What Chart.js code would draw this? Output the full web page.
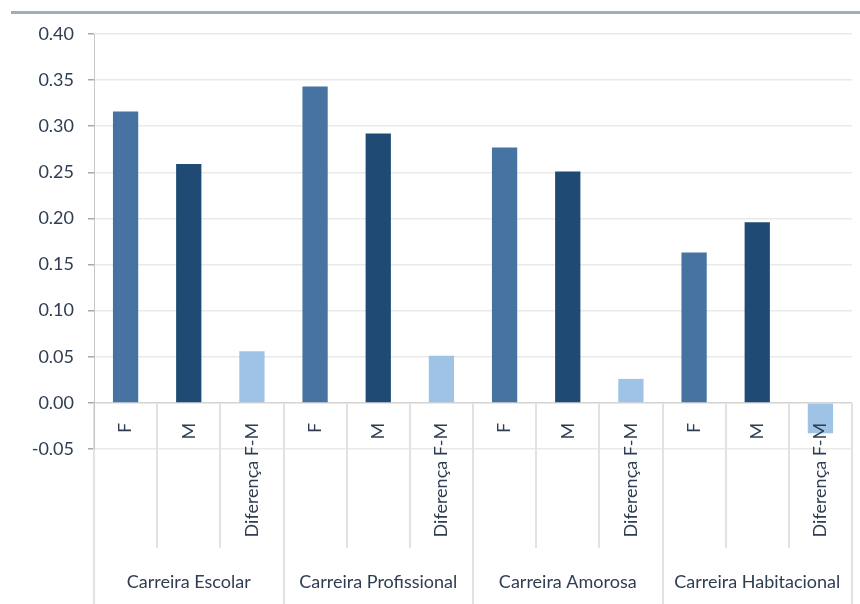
<!DOCTYPE html>
<html>
<head>
<meta charset="utf-8">
<script src="https://cdn.jsdelivr.net/npm/chart.js@4.4.1/dist/chart.umd.min.js"></script>
<style>
  body { margin: 0; background: #fff; }
  #wrap { position: relative; width: 860px; height: 604px; }
  #topline { position: absolute; left: 11px; right: 0; top: 11px; height: 3px; background: #a4adb7; }
</style>
</head>
<body>
<div id="wrap">
  <div id="topline"></div>
  <canvas id="chart"></canvas>
</div>
<script>
// sub-categories (one bar each) and the four groups
const subLabels = ['F', 'M', 'Diferença F-M', 'F', 'M', 'Diferença F-M',
                   'F', 'M', 'Diferença F-M', 'F', 'M', 'Diferença F-M'];
const groupLabels = ['Carreira Escolar', 'Carreira Profissional', 'Carreira Amorosa', 'Carreira Habitacional'];

// values
const values = [0.316, 0.259, 0.056,
                0.343, 0.292, 0.051,
                0.277, 0.251, 0.026,
                0.163, 0.196, -0.033];

const yMin = -0.05;
const yMax = 0.40;
const yStep = 0.05;

const colF = '#4673a1';
const colM = '#1f4a73';
const colD = '#9fc3e7';
const barColors = subLabels.map(l => l === 'F' ? colF : (l === 'M' ? colM : colD));

const textColor = '#2e3d52';
const fontFam = 'Lato, "Open Sans", sans-serif';

const ctx = document.getElementById('chart');

new Chart(ctx, {
    type: 'bar',
    data: {
        labels: subLabels,
        datasets: [{
            data: values,
            backgroundColor: barColors,
            categoryPercentage: 1,
            barPercentage: 0.4,
            xAxisID: 'x',
            yAxisID: 'y'
        }]
    },
    options: {
        responsive: true,
        maintainAspectRatio: false,
        animation: false,
        layout: { padding: { left: 0, right: 8, top: 34, bottom: 0 } },
        plugins: { legend: { display: false }, tooltip: { enabled: false } },
        scales: {
            y: {
                min: yMin,
                max: yMax,
                afterFit: s => { s.width = 94; },
                ticks: {
                    stepSize: yStep,
                    padding: 14,
                    color: textColor,
                    font: { family: fontFam, size: 18 },
                    callback: v => (Math.abs(v) < 1e-9 ? 0 : v).toFixed(2)
                },
                grid: {
                    color: c => (c.tick && Math.abs(c.tick.value) < 1e-9) ? '#d4d4d4' : '#e9e9e9',
                    lineWidth: 1.5,
                    tickLength: 6,
                    tickColor: '#a8a8a8'
                },
                border: { display: true, color: '#c6c6c6', width: 1 }
            },
            // F / M / Diferença labels hang from the zero line (text drawn over the bars)
            x: {
                position: { y: 0 },
                offset: true,
                ticks: {
                    z: 1,
                    autoSkip: false,
                    minRotation: 90,
                    maxRotation: 90,
                    padding: -125,
                    color: textColor,
                    font: { family: fontFam, size: 18 }
                },
                grid: {
                    offset: true,
                    drawOnChartArea: false,
                    tickLength: 145,
                    tickColor: '#e2e2e2',
                    lineWidth: 2
                },
                border: { display: false }
            },
            // group names at the bottom
            g: {
                type: 'category',
                position: 'bottom',
                labels: groupLabels,
                offset: true,
                afterFit: s => { s.height = 155; },
                ticks: {
                    autoSkip: false,
                    minRotation: 0,
                    maxRotation: 0,
                    padding: -33,
                    color: textColor,
                    font: { family: fontFam, size: 18 }
                },
                grid: {
                    offset: true,
                    drawOnChartArea: false,
                    tickLength: 155,
                    tickColor: '#e2e2e2',
                    lineWidth: 2
                },
                border: { display: false }
            }
        }
    }
});
</script>
</body>
</html>
